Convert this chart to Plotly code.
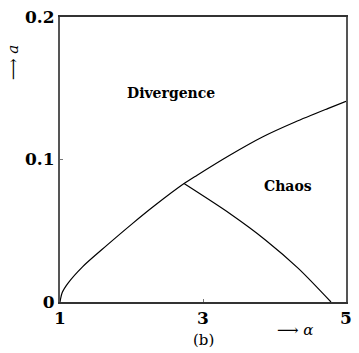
import plotly.graph_objects as go

# Upper boundary: divergence threshold a(alpha)
upper_alpha = [1.0, 1.03, 1.11, 1.315, 1.658, 2.0, 2.32, 2.735, 2.918, 3.374, 3.831, 4.288, 4.744, 5.0]
upper_a = [0.0, 0.0065, 0.0131, 0.0247, 0.0399, 0.0545, 0.0675, 0.0831, 0.089, 0.103, 0.1158, 0.1263, 0.1357, 0.1408]

# Lower boundary: onset of chaos
lower_alpha = [2.735, 3.374, 3.877, 4.333, 4.79]
lower_a = [0.0831, 0.0621, 0.0434, 0.0236, 0.0]

# Axis ticks
x_ticks = [1, 3, 5]
x_tick_text = ["<b>1</b>", "<b>3</b>", "<b>5</b>"]
y_ticks = [0, 0.1, 0.2]
y_tick_text = ["<b>0</b>", "<b>0.1</b>", "<b>0.2</b>"]

serif = "DejaVu Serif"

fig = go.Figure()
fig.add_trace(go.Scatter(x=upper_alpha, y=upper_a, mode="lines",
                         line=dict(color="black", width=1.2, shape="spline", smoothing=0.8),
                         hoverinfo="skip"))
fig.add_trace(go.Scatter(x=lower_alpha, y=lower_a, mode="lines",
                         line=dict(color="black", width=1.2, shape="spline", smoothing=0.8),
                         hoverinfo="skip"))

W, H = 359, 353
L, R, T, B = 60, 7, 17, 51

fig.update_layout(
    width=W, height=H,
    margin=dict(l=L, r=R, t=T, b=B),
    paper_bgcolor="white", plot_bgcolor="white",
    showlegend=False,
    font=dict(family=serif, color="black"),
    xaxis=dict(range=[1, 5], tickvals=x_ticks, ticktext=x_tick_text,
               ticks="inside", ticklen=3, tickcolor="#777",
               showgrid=False, zeroline=False,
               showline=True, linecolor="#333", linewidth=2, mirror=True,
               tickfont=dict(family=serif, size=17, color="black")),
    yaxis=dict(range=[0, 0.2], tickvals=y_ticks, ticktext=y_tick_text,
               ticks="inside", ticklen=3, tickcolor="#777",
               showgrid=False, zeroline=False,
               showline=True, linecolor="#555", linewidth=2, mirror=True,
               tickfont=dict(family=serif, size=17, color="black")),
)

fig.add_annotation(x=2.55, y=0.147, xref="x", yref="y", text="<b>Divergence</b>",
                   showarrow=False, font=dict(family=serif, size=14, color="black"))
fig.add_annotation(x=4.19, y=0.0813, xref="x", yref="y", text="<b>Chaos</b>",
                   showarrow=False, font=dict(family=serif, size=14, color="black"))

# Axis titles with arrows, placed in pixel positions converted to paper coordinates
pw, ph = W - L - R, H - T - B
pixel_labels = [
    ("⟶ <i>α</i>", 300, 330, 0, 15),
    ("⟶ <i>a</i>", 12, 62, -90, 15),
    ("(b)", 206, 340, 0, 15),
]
for text, px, py, angle, size in pixel_labels:
    fig.add_annotation(x=(px - L) / pw, y=(H - B - py) / ph, xref="paper", yref="paper",
                       text=text, textangle=angle, showarrow=False,
                       xanchor="center", yanchor="middle",
                       font=dict(family=serif, size=size, color="black"))

fig.write_html("out.html")
